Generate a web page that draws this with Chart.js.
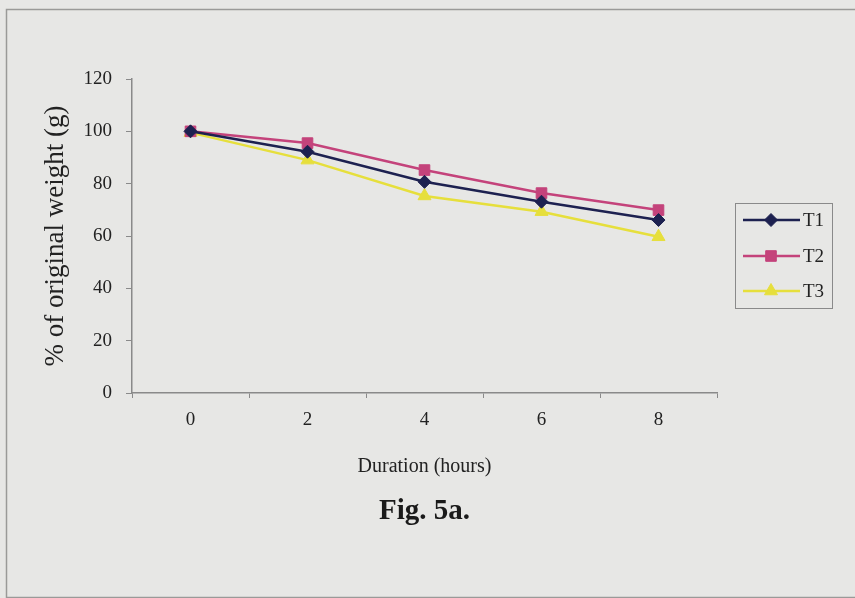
<!DOCTYPE html>
<html>
<head>
<meta charset="utf-8">
<script src="https://cdn.jsdelivr.net/npm/chart.js@4.4.1/dist/chart.umd.min.js"></script>
<style>
  html, body { margin: 0; padding: 0; background: #e7e7e5; }
  #wrap { position: relative; width: 855px; height: 598px; }
</style>
</head>
<body>
<div id="wrap"><canvas id="c" width="855" height="598"></canvas></div>
<script>
const categories = ['0', '2', '4', '6', '8'];
const seriesNames = ['T1', 'T2', 'T3'];
const t1Values = [100, 92.2, 80.7, 73.1, 66.1];
const t2Values = [100, 95.5, 85.2, 76.4, 69.9];
const t3Values = [99.5, 89, 75.3, 69.3, 59.7];
const yTicks = [0, 20, 40, 60, 80, 100, 120];
const figLabel = 'Fig. 5a.';

const serif = '"Liberation Serif", "Times New Roman", serif';
const colors = ['#1d2150', '#c4437b', '#e6df3c'];
const shapes = ['rectRot', 'rect', 'triangle'];
const radii = [6.5, 7.5, 7.5];

const datasets = [t1Values, t2Values, t3Values].map((vals, i) => ({
  label: seriesNames[i],
  data: vals,
  borderColor: colors[i],
  backgroundColor: colors[i],
  borderWidth: 2.5,
  pointStyle: shapes[i],
  pointRadius: radii[i],
  pointHoverRadius: radii[i],
  pointBorderWidth: 1,
  tension: 0
}));

const bgPlugin = {
  id: 'bg',
  beforeDraw(chart) {
    const ctx = chart.ctx;
    ctx.save();
    ctx.fillStyle = '#e7e7e5';
    ctx.fillRect(0, 0, chart.width, chart.height);
    ctx.strokeStyle = '#9a9a98';
    ctx.lineWidth = 1.5;
    ctx.strokeRect(6.5, 9.5, 860, 588);
    ctx.restore();
  }
};

const figPlugin = {
  id: 'figLabel',
  afterDraw(chart) {
    const ctx = chart.ctx;
    const a = chart.chartArea;
    ctx.save();
    ctx.fillStyle = '#1a1a1a';
    ctx.font = 'bold 29px ' + serif;
    ctx.textAlign = 'center';
    ctx.textBaseline = 'middle';
    ctx.fillText(figLabel, (a.left + a.right) / 2, 512);
    ctx.restore();
  }
};

const legendPlugin = {
  id: 'customLegend',
  afterDraw(chart) {
    const ctx = chart.ctx;
    ctx.save();
    ctx.strokeStyle = '#8a8a8a';
    ctx.lineWidth = 1;
    ctx.strokeRect(735.5, 203.5, 97, 105);
    const rowY = [220, 256, 291];
    chart.data.datasets.forEach((ds, i) => {
      const y = rowY[i];
      ctx.strokeStyle = ds.borderColor;
      ctx.lineWidth = 2.5;
      ctx.beginPath();
      ctx.moveTo(743, y);
      ctx.lineTo(800, y);
      ctx.stroke();
      ctx.fillStyle = ds.backgroundColor;
      ctx.strokeStyle = ds.borderColor;
      ctx.lineWidth = 1;
      Chart.helpers.drawPoint(ctx, {
        pointStyle: ds.pointStyle,
        radius: ds.pointRadius,
        rotation: 0,
        borderWidth: 1
      }, 771, y);
      ctx.fillStyle = '#222';
      ctx.font = '19px ' + serif;
      ctx.textBaseline = 'middle';
      ctx.textAlign = 'left';
      ctx.fillText(ds.label, 803, y + 1);
    });
    ctx.restore();
  }
};

new Chart(document.getElementById('c'), {
  type: 'line',
  data: { labels: categories, datasets },
  options: {
    responsive: false,
    animation: false,
    devicePixelRatio: 1,
    layout: { padding: { top: 79, right: 138, left: 0, bottom: 109 } },
    plugins: {
      legend: { display: false },
      tooltip: { enabled: false },
      title: { display: false }
    },
    scales: {
      x: {
        type: 'category',
        offset: true,
        grid: {
          offset: true,
          drawOnChartArea: false,
          drawTicks: true,
          tickLength: 5,
          color: '#8a8a8a'
        },
        border: { display: true, color: '#8a8a8a', width: 1.5 },
        ticks: {
          color: '#222',
          font: { family: serif, size: 19 },
          padding: 11
        },
        title: {
          display: true,
          text: 'Duration (hours)',
          color: '#222',
          font: { family: serif, size: 20 },
          padding: 10
        },
        afterFit(scale) { scale.height = 96; }
      },
      y: {
        min: 0,
        max: 120,
        afterBuildTicks(scale) { scale.ticks = yTicks.map(v => ({ value: v })); },
        grid: {
          drawOnChartArea: false,
          drawTicks: true,
          tickLength: 6,
          color: '#8a8a8a'
        },
        border: { display: true, color: '#8a8a8a', width: 1.5 },
        ticks: {
          color: '#222',
          font: { family: serif, size: 19 },
          padding: 14
        },
        title: {
          display: true,
          text: '% of original weight (g)',
          color: '#222',
          font: { family: serif, size: 27 },
          padding: 40
        },
        afterFit(scale) { scale.width = 132; }
      }
    }
  },
  plugins: [bgPlugin, legendPlugin, figPlugin]
});
</script>
</body>
</html>
